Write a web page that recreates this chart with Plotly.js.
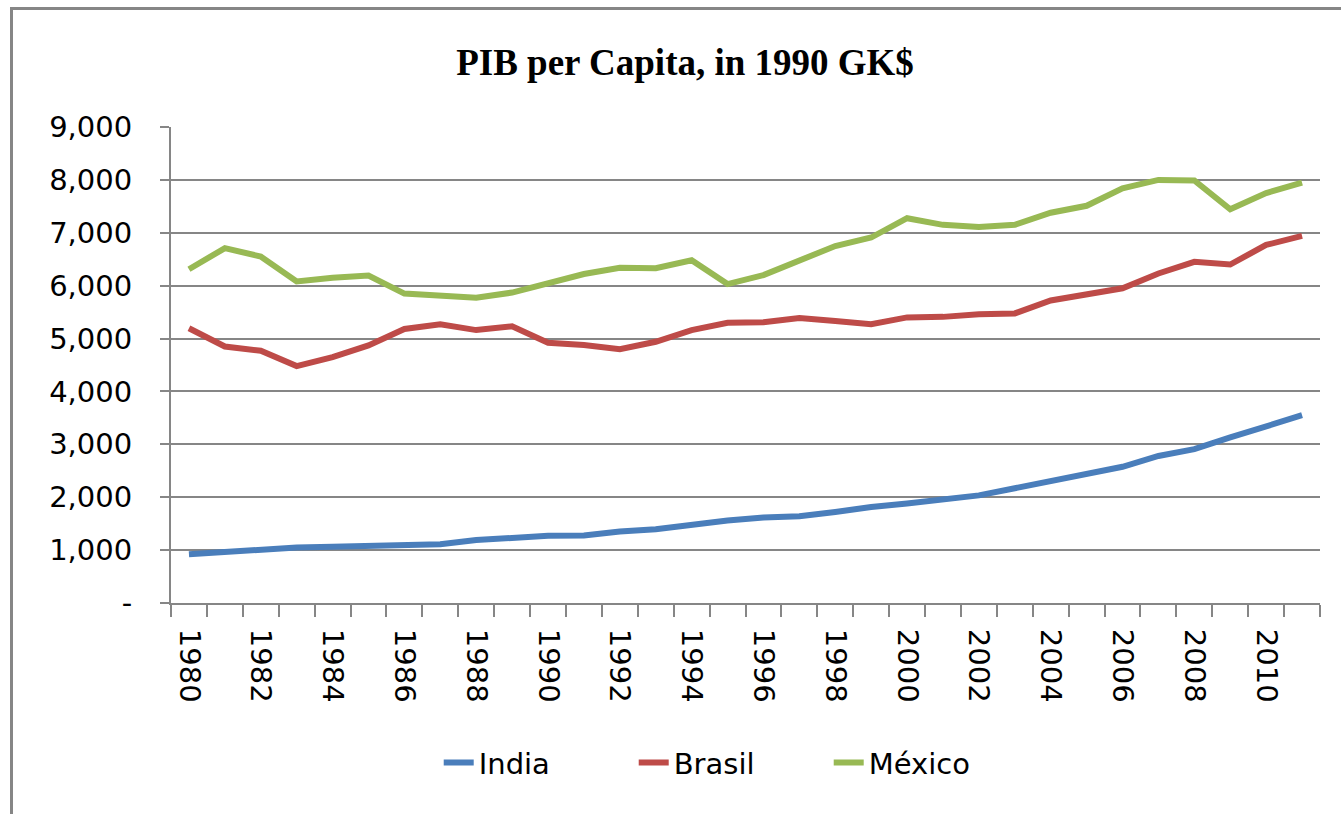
<!DOCTYPE html>
<html>
<head>
<meta charset="utf-8">
<script src="https://cdn.plot.ly/plotly-3.0.1.min.js"></script>
<style>
  html, body { margin: 0; padding: 0; background: #ffffff; }
  #wrap { position: relative; width: 1341px; height: 814px; overflow: hidden; }
  #chart { width: 1341px; height: 814px; }
  #frame { position: absolute; left: 10px; top: 7px; width: 1400px; height: 900px;
           border-left: 3px solid #868686; border-top: 3px solid #868686; pointer-events: none; }
</style>
</head>
<body>
<div id="wrap">
  <div id="chart"></div>
  <div id="frame"></div>
</div>
<script>
const years = [1980, 1981, 1982, 1983, 1984, 1985, 1986, 1987, 1988, 1989,
               1990, 1991, 1992, 1993, 1994, 1995, 1996, 1997, 1998, 1999,
               2000, 2001, 2002, 2003, 2004, 2005, 2006, 2007, 2008, 2009,
               2010, 2011];

const india = [920, 965, 995, 1050, 1065, 1080, 1090, 1110, 1190, 1240,
               1270, 1275, 1350, 1395, 1480, 1560, 1615, 1640, 1720, 1815,
               1880, 1955, 2035, 2170, 2300, 2430, 2575, 2780, 2910, 3130,
               3330, 3550];

const brasil = [5195, 4850, 4770, 4480, 4650, 4870, 5180, 5270, 5160, 5230,
                4920, 4880, 4800, 4940, 5160, 5300, 5310, 5390, 5330, 5270,
                5400, 5410, 5460, 5475, 5720, 5830, 5950, 6230, 6450, 6400,
                6770, 6940];

const mexico = [6310, 6710, 6550, 6080, 6150, 6190, 5850, 5800, 5770, 5870,
                6050, 6220, 6340, 6330, 6480, 6030, 6200, 6490, 6750, 6910,
                7275, 7150, 7110, 7150, 7380, 7510, 7840, 8000, 7990, 7445,
                7750, 7950];

const seriesNames = ['India', 'Brasil', 'México'];
const seriesColors = ['#4A7EBB', '#BE4B48', '#98B954'];

const yTickVals = [0, 1000, 2000, 3000, 4000, 5000, 6000, 7000, 8000, 9000];
const yTickText = ['-', '1,000', '2,000', '3,000', '4,000', '5,000', '6,000', '7,000', '8,000', '9,000'];

const titleText = 'PIB per Capita, in 1990 GK$';

const grid = '#868686';
const tickFont = { family: 'DejaVu Sans, sans-serif', size: 29, color: '#000000' };

const seriesValues = [india, brasil, mexico];
const traces = seriesValues.map((vals, i) => ({
  type: 'scatter',
  mode: 'lines',
  name: seriesNames[i],
  x: years,
  y: vals,
  line: { color: seriesColors[i], width: 6 },
  hoverinfo: 'x+y+name'
}));

const layout = {
  width: 1341,
  height: 814,
  paper_bgcolor: '#ffffff',
  plot_bgcolor: '#ffffff',
  margin: { l: 171, r: 21, t: 127, b: 211, pad: 0 },
  title: {
    text: '<b>' + titleText + '</b>',
    font: { family: 'Liberation Serif, Times New Roman, serif', size: 37, color: '#000000' },
    x: 685 / 1341, xref: 'container', xanchor: 'center',
    y: 1 - 62 / 814, yref: 'container', yanchor: 'middle'
  },
  xaxis: {
    type: 'linear',
    range: [years[0] - 0.5, years[years.length - 1] + 0.5],
    tickmode: 'linear',
    tick0: years[0],
    dtick: 2,
    tickformat: 'd',
    tickangle: 90,
    ticks: 'outside',
    ticklen: 12,
    tickcolor: 'rgba(0,0,0,0)',
    ticklabelstandoff: 6,
    tickfont: tickFont,
    showgrid: false,
    zeroline: false,
    showline: true,
    linecolor: grid,
    linewidth: 2,
    minor: {
      ticks: 'outside',
      tick0: years[0] - 0.5,
      dtick: 1,
      ticklen: 12,
      tickwidth: 2,
      tickcolor: grid,
      showgrid: false
    },
    fixedrange: true
  },
  yaxis: {
    range: [0, 9000],
    tickmode: 'array',
    tickvals: yTickVals,
    ticktext: yTickText,
    ticks: 'outside',
    ticklen: 9,
    tickwidth: 2,
    tickcolor: grid,
    ticklabelstandoff: 22,
    tickfont: tickFont,
    showgrid: true,
    gridcolor: grid,
    gridwidth: 2,
    zeroline: false,
    showline: true,
    linecolor: grid,
    linewidth: 2,
    fixedrange: true
  },
  showlegend: true,
  legend: {
    orientation: 'h',
    x: 0.233, xanchor: 'left',
    y: (602.5 - 762) / 475.5, yanchor: 'middle',
    font: { family: 'DejaVu Sans, sans-serif', size: 29, color: '#000000' },
    entrywidth: 150,
    bgcolor: 'rgba(0,0,0,0)'
  }
};

Plotly.newPlot('chart', traces, layout, { displayModeBar: false, staticPlot: false });
</script>
</body>
</html>
